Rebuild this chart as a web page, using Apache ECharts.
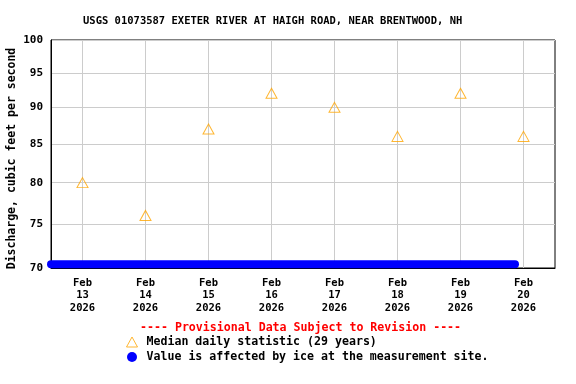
<!DOCTYPE html>
<html>
<head>
<meta charset="utf-8">
<script src="https://cdn.jsdelivr.net/npm/echarts@6/dist/echarts.min.js"></script>
<style>html,body{margin:0;padding:0;background:#fff}#c{width:576px;height:384px}</style>
</head>
<body>
<div id="c"></div>
<script>
const titleText = 'USGS 01073587 EXETER RIVER AT HAIGH ROAD, NEAR BRENTWOOD, NH';
const medianDates = ['2026-02-13','2026-02-14','2026-02-15','2026-02-16','2026-02-17','2026-02-18','2026-02-19','2026-02-20'];
const medianValues = [80, 76, 87, 92, 90, 86, 92, 86];
const iceTimes = ['2026-02-12T12:00:00Z', '2026-02-19T20:45:00Z'];
const iceValues = [70.4, 70.4];
const xTickDates = ['2026-02-13','2026-02-14','2026-02-15','2026-02-16','2026-02-17','2026-02-18','2026-02-19','2026-02-20'];
const xTickLabels = ['Feb\n13\n2026','Feb\n14\n2026','Feb\n15\n2026','Feb\n16\n2026','Feb\n17\n2026','Feb\n18\n2026','Feb\n19\n2026','Feb\n20\n2026'];
const yTicks = [70, 75, 80, 85, 90, 95, 100];
const xRange = ['2026-02-12T12:00:00Z', '2026-02-20T12:00:00Z'];

const t = s => new Date(s.length === 10 ? s + 'T00:00:00Z' : s).getTime();
const xTickVals = xTickDates.map(t);
const FONT = '"DejaVu Sans Mono", monospace';

const chart = echarts.init(document.getElementById('c'), null, {renderer: 'canvas'});
chart.setOption({
  animation: false,
  backgroundColor: '#fff',
  grid: {left: 51, right: 21, top: 40, bottom: 116, containLabel: false, outerBoundsMode: 'none',
         show: true, borderColor: '#000', borderWidth: 1},
  title: {
    text: titleText, left: 78, top: 11,
    textStyle: {fontFamily: FONT, fontWeight: 'bold', fontSize: 10.5, color: '#000'}
  },
  xAxis: {
    type: 'value', min: t(xRange[0]), max: t(xRange[1]),
    axisLine: {show: true, lineStyle: {color: '#000', width: 1}},
    axisTick: {show: false, customValues: xTickVals},
    splitLine: {show: true, lineStyle: {color: '#cccccc', width: 1}},
    axisLabel: {
      customValues: xTickVals, margin: 9,
      fontFamily: FONT, fontWeight: 'bold', fontSize: 10.5, color: '#000', lineHeight: 12.5,
      formatter: v => { const i = xTickVals.indexOf(v); return i >= 0 ? xTickLabels[i] : ''; }
    }
  },
  yAxis: {
    type: 'log', logBase: 10, min: 70, max: 100,
    name: 'Discharge, cubic feet per second', nameLocation: 'middle', nameGap: 33, nameRotate: 90,
    nameMoveOverlap: false,
    nameTextStyle: {fontFamily: FONT, fontWeight: 'bold', fontSize: 11.5, color: '#000', padding: [0, 9, 0, 0]},
    axisLine: {show: true, lineStyle: {color: '#000', width: 1}},
    axisTick: {show: false, customValues: yTicks},
    splitLine: {show: true, lineStyle: {color: '#cccccc', width: 1}},
    axisLabel: {customValues: yTicks, margin: 8, fontFamily: FONT, fontWeight: 'bold', fontSize: 11, color: '#000'}
  },
  legend: {
    orient: 'vertical', left: 121, top: 331, itemWidth: 11, itemHeight: 10, itemGap: 3,
    textStyle: {fontFamily: FONT, fontWeight: 'bold', fontSize: 11.6, color: '#000', padding: [0, 0, 0, 4]},
    data: [
      {name: 'Median daily statistic (29 years)', icon: 'triangle',
       itemStyle: {color: 'rgba(0,0,0,0)', borderColor: '#FFA500', borderWidth: 1}},
      {name: 'Value is affected by ice at the measurement site.', icon: 'circle',
       itemStyle: {color: '#0000FF'}}
    ]
  },
  graphic: [{
    type: 'text', left: 140, top: 322,
    style: {text: '---- Provisional Data Subject to Revision ----', fill: '#FF0000',
            font: 'bold 11.6px "DejaVu Sans Mono", monospace'}
  }],
  series: [
    {
      name: 'Value is affected by ice at the measurement site.', type: 'line', clip: false,
      showSymbol: false, symbol: 'circle',
      itemStyle: {color: '#0000FF'},
      lineStyle: {color: '#0000FF', width: 8, cap: 'round'},
      data: iceTimes.map((s, i) => [t(s), iceValues[i]])
    },
    {
      name: 'Median daily statistic (29 years)', type: 'scatter',
      symbol: 'triangle', symbolSize: [11, 10],
      itemStyle: {color: 'rgba(0,0,0,0)', borderColor: '#FFA500', borderWidth: 1},
      data: medianDates.map((s, i) => [t(s), medianValues[i]])
    }
  ]
});
</script>
</body>
</html>
